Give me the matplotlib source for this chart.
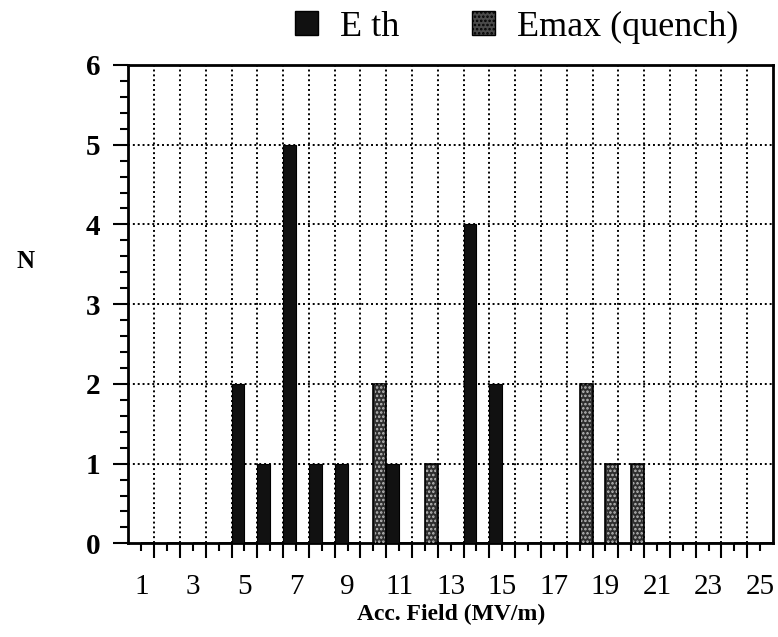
import numpy as np
import matplotlib
matplotlib.use("Agg")
import matplotlib.pyplot as plt
from matplotlib.ticker import MultipleLocator, FixedLocator
from matplotlib.patches import Patch

# данные
field = list(range(1, 26))
e_th = [0, 0, 0, 0, 2, 1, 5, 1, 1, 0, 1, 0, 0, 4, 2, 0, 0, 0, 0, 0, 0, 0, 0, 0, 0]
e_max = [0, 0, 0, 0, 0, 0, 0, 0, 0, 2, 0, 1, 0, 0, 0, 0, 0, 2, 1, 1, 0, 0, 0, 0, 0]
tick_labels = [str(f) if f % 2 == 1 else "" for f in field]

plt.rcParams['font.family'] = ['Liberation Serif', 'DejaVu Serif']
plt.rcParams['hatch.linewidth'] = 1.2

fig = plt.figure(figsize=(7.78, 6.37), dpi=100)
ax = fig.add_axes([0.165, 0.147, 0.8286, 0.751])

x = np.array(field)
ax.bar(x - 0.5, e_th, width=0.5, align='edge', color='#111111',
       edgecolor='black', linewidth=0.8, zorder=3)
ax.bar(x, e_max, width=0.5, align='edge', color='#2e2e2e',
       edgecolor='black', linewidth=1.2, zorder=3)
# светлый узор поверх серых столбцов
ax.bar(x + 0.06, e_max, width=0.38, align='edge', fill=False,
       edgecolor='#bdbdbd', linewidth=0, hatch='....', zorder=4)

ax.set_xlim(0.5, 25.5)
ax.set_ylim(0, 6)

ax.xaxis.set_major_locator(FixedLocator(field))
ax.set_xticklabels(tick_labels, fontsize=21)
ax.xaxis.set_minor_locator(FixedLocator(np.arange(1.5, 25, 1.0)))
ax.tick_params(axis='x', which='major', direction='out', length=6, width=1.5, pad=16)
ax.tick_params(axis='x', which='minor', direction='out', length=11, width=1.5)

ax.yaxis.set_major_locator(MultipleLocator(1))
ax.yaxis.set_minor_locator(MultipleLocator(0.2))
ax.tick_params(axis='y', which='major', direction='out', length=11, width=1.5,
               pad=9, labelsize=21)
ax.tick_params(axis='y', which='minor', direction='out', length=6, width=1.5)
for lbl in ax.get_yticklabels():
    lbl.set_fontweight('bold')

for x_g in np.arange(1.5, 25, 1.0):
    ax.axvline(x_g, color='black', linestyle=(0, (1, 1.5)), linewidth=1.4, zorder=1)
for y_g in range(1, 6):
    ax.axhline(y_g, color='black', linestyle=(0, (1, 1.5)), linewidth=1.4, zorder=1)

for s in ax.spines.values():
    s.set_linewidth(2)

ax.set_xlabel('Acc. Field (MV/m)', fontsize=17, fontweight='bold', labelpad=3)
fig.text(0.033, 0.589, 'N', fontsize=18, fontweight='bold', ha='center', va='center')

handles = [Patch(facecolor='#111111', edgecolor='black'),
           Patch(facecolor='#4a4a4a', edgecolor='black', hatch='....')]
fig.legend(handles, ['E th', 'Emax (quench)'], loc='center', ncol=2,
           bbox_to_anchor=(0.664, 0.957), frameon=False, fontsize=26,
           handlelength=0.65, handleheight=0.65, handletextpad=0.6,
           columnspacing=2.0)

fig.savefig('out.png', dpi=100)
